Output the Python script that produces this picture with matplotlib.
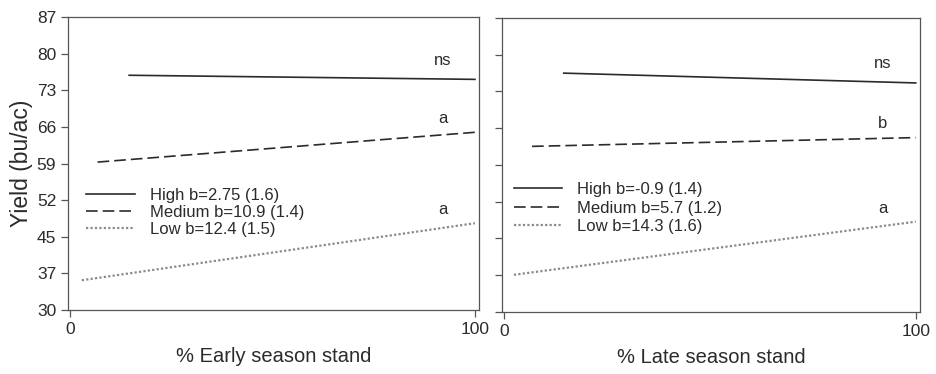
import matplotlib
matplotlib.use('Agg')
import matplotlib.pyplot as plt
import numpy as np

plt.rcParams['font.family'] = ['Liberation Sans', 'DejaVu Sans']

# Regression line end points (x = % stand, y = yield)
early_high_x = [14.6, 100]
early_high_y = [75.7, 74.9]
early_med_x = [6.8, 100]
early_med_y = [58.8, 64.6]
early_low_x = [2.9, 100]
early_low_y = [35.8, 46.9]

late_high_x = [14.5, 100]
late_high_y = [76.3, 74.4]
late_med_x = [6.8, 100]
late_med_y = [62.1, 63.8]
late_low_x = [2.4, 100]
late_low_y = [37.2, 47.5]

early_labels = ["High b=2.75 (1.6)", "Medium b=10.9 (1.4)", "Low b=12.4 (1.5)"]
late_labels = ["High b=-0.9 (1.4)", "Medium b=5.7 (1.2)", "Low b=14.3 (1.6)"]
early_letters = ["ns", "a", "a"]
late_letters = ["ns", "b", "a"]
ytick_labels = ["30", "37", "45", "52", "59", "66", "73", "80", "87"]

dark = "#2b2b2b"
spine_col = "#555555"
low_col = "#8a8a8a"

fig = plt.figure(figsize=(9.37, 3.74), dpi=100)
ax1 = fig.add_axes([0.0726, 0.171, 0.4386, 0.783])
ax2 = fig.add_axes([0.5357, 0.166, 0.446, 0.786])


def draw_panel(ax, hx, hy, mx, my, lx, ly, labels, letters, xlabel, show_y,
               leg_anchor, leg_spacing):
    l1, = ax.plot(hx, hy, color=dark, lw=1.2, label=labels[0])
    l2, = ax.plot(mx, my, color=dark, lw=1.2, dashes=(7, 3), label=labels[1])
    l3, = ax.plot(lx, ly, color=low_col, lw=1.6, dashes=(1, 1), label=labels[2])
    ax.set_xlim(-0.5, 101)
    ax.set_ylim(30, 87)
    ax.set_xticks([0, 100])
    ax.set_yticks(np.linspace(30, 87, 9))
    if show_y:
        ax.set_yticklabels(ytick_labels)
        ax.set_ylabel("Yield (bu/ac)", fontsize=16.5, color=dark, labelpad=3)
    else:
        ax.set_yticklabels([])
    ax.set_xlabel(xlabel, fontsize=14.5, color=dark, labelpad=7)
    ax.tick_params(direction='out', length=5, width=0.9, colors=spine_col,
                   labelcolor=dark, labelsize=12.5)
    for s in ax.spines.values():
        s.set_color(spine_col)
        s.set_linewidth(0.9)
    # significance letters at right end of each line
    ax.text(92, hy[1] + 2.8, letters[0], fontsize=12, color=dark, ha='center')
    ax.text(92, my[1] + 1.9, letters[1], fontsize=12, color=dark, ha='center')
    ax.text(92, ly[1] + 1.7, letters[2], fontsize=12, color=dark, ha='center')
    ax.legend(handles=[l1, l2, l3], loc='upper left', bbox_to_anchor=leg_anchor,
              frameon=False, fontsize=12, handlelength=2.9, handletextpad=0.9,
              labelspacing=leg_spacing, borderaxespad=0, labelcolor=dark)


draw_panel(ax1, early_high_x, early_high_y, early_med_x, early_med_y,
           early_low_x, early_low_y, early_labels, early_letters,
           "% Early season stand", True, (0.028, 0.44), 0.12)
draw_panel(ax2, late_high_x, late_high_y, late_med_x, late_med_y,
           late_low_x, late_low_y, late_labels, late_letters,
           "% Late season stand", False, (0.012, 0.465), 0.22)

plt.savefig("out.png", dpi=100, facecolor='#FFFFFF')
plt.close()
